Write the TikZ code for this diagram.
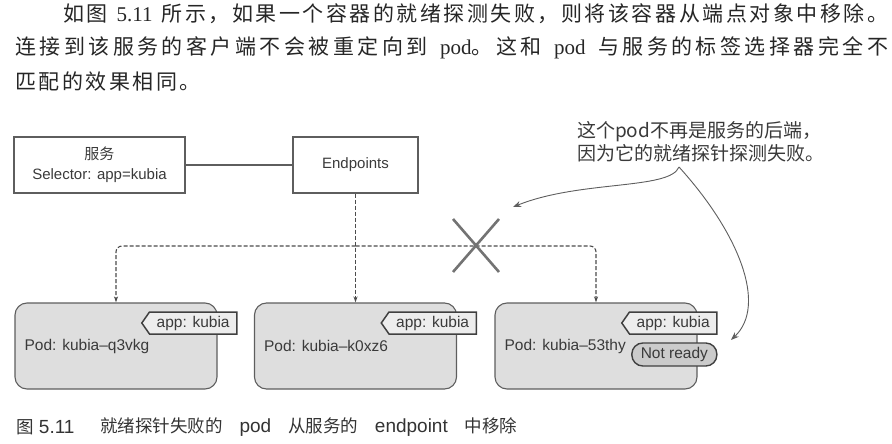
\documentclass[tikz,border=0pt]{standalone}
\usepackage{fontspec}
\setmainfont{Liberation Sans}
\newfontfamily\cjk{Noto Sans CJK SC}
\newfontfamily\cjkbody[LetterSpace=12]{Noto Sans CJK SC}
\newfontfamily\cjkwide[LetterSpace=16.5]{Noto Sans CJK SC}
\newfontfamily\romtext{Liberation Serif}
\usepackage{tikz}
\usetikzlibrary{arrows.meta,shapes.symbols}
\definecolor{linie}{HTML}{5E5E5E}
\definecolor{schrift}{HTML}{3A3A3A}
\definecolor{podgrau}{HTML}{DEDEDE}
\definecolor{etikett}{HTML}{EDEDED}
\definecolor{warngrau}{HTML}{CBCBCB}
\newcommand{\zh}[1]{{\cjkbody #1}}
\newcommand{\zhw}[1]{{\cjkwide #1}}
\newcommand{\lat}[1]{{\romtext #1}}
\newcommand{\capzh}[1]{{\cjk\fontsize{17.5}{22}\selectfont #1}}

\begin{document}
\begin{tikzpicture}[x=1pt,y=-1pt,
    box/.style={draw=linie, line width=1.1pt, inner sep=0pt, minimum height=56pt, align=center, text=schrift, font=\fontsize{15}{20}\selectfont},
    pod/.style={draw=linie, line width=1.1pt, fill=podgrau, rounded corners=12pt, minimum width=202pt, minimum height=86pt, inner sep=0pt},
    podname/.style={anchor=west, inner sep=0pt, text=schrift, font=\fontsize{15.5}{18}\selectfont},
    tag/.style={signal, signal to=west, signal pointer angle=110, draw=black!75, line width=1.5pt, fill=etikett, minimum width=95pt, minimum height=22pt, inner xsep=3pt, inner ysep=0pt, anchor=east, text=schrift, font=\fontsize{15.5}{18}\selectfont},
    notready/.style={draw=black!75, line width=1.4pt, fill=warngrau, rounded corners=11pt, minimum width=85pt, minimum height=23pt, inner sep=0pt, anchor=east, text=schrift, font=\fontsize{15.5}{18}\selectfont},
    conn/.style={draw=black!70, line width=1.1pt, dash pattern=on 4pt off 2pt, -{Stealth[length=6pt,width=4pt]}},
    pfeil/.style={draw=linie, line width=0.9pt, -{Stealth[length=8pt,width=6pt]}},
    para/.style={anchor=west, inner sep=0pt, text=black!85, font=\fontsize{21}{24}\selectfont},
    caption/.style={anchor=west, inner sep=0pt, text=black!80, font=\fontsize{19}{22}\selectfont}]
    \useasboundingbox (0,0) rectangle (892,444);
    % Absatz
    \node[para] (zeile1) at (63,14) {\makebox[825pt][s]{\zh{如图}\ \lat{5.11}\ \zh{所示，如果一个容器的就绪探测失败，则将该容器从端点对象中移除。}}};
    \node[para] (zeile2) at (15,48) {\makebox[873pt][s]{\zhw{连接到该服务的客户端不会被重定向到}\ \lat{pod}\zhw{。这和}\ \lat{pod}\ \zhw{与服务的标签选择器完全不}}};
    \node[para] (zeile3) at (15,82) {\zh{匹配的效果相同。}};
    % Service und Endpoints
    \node[box, minimum width=171pt] (svc) at (99.5,165) {{\cjk 服务}\\Selector: app=kubia};
    \node[box, minimum width=125pt] (ep) at (355.5,165) {Endpoints};
    \draw[linie, line width=1.1pt] (svc) -- (ep);
    % Pods
    \node[pod] (pod1) at (116,346) {};
    \node[pod] (pod2) at (355.5,346) {};
    \node[pod] (pod3) at (596,346) {};
    \node[podname] (name1) at ([xshift=10pt]pod1.west) {Pod: kubia–q3vkg};
    \node[podname] (name2) at ([xshift=10pt]pod2.west) {Pod: kubia–k0xz6};
    \node[podname] (name3) at ([xshift=10pt]pod3.west) {Pod: kubia–53thy};
    \node[tag] (tag1) at ([xshift=20pt,yshift=23pt]pod1.east) {app: kubia};
    \node[tag] (tag2) at ([xshift=20pt,yshift=23pt]pod2.east) {app: kubia};
    \node[tag] (tag3) at ([xshift=20pt,yshift=23pt]pod3.east) {app: kubia};
    \node[notready] (nr) at ([xshift=20pt,yshift=-8.5pt]pod3.east) {Not ready};
    % Verbindungen
    \coordinate (bus) at (355.5,246);
    \draw[conn] (ep.south) -- (pod2.north);
    \draw[conn, rounded corners=6pt] (bus) -| (pod1.north);
    \draw[conn, rounded corners=6pt] (bus) -| (pod3.north);
    \draw[black!55, line width=2.6pt] (453,219) -- (499,272) (453,272) -- (499,219); %Kreuz
    % Hinweis
    \node[anchor=west, align=left, inner sep=0pt, text=schrift, font=\cjk\fontsize{19}{23}\selectfont] (note) at (577,141.5) {这个pod不再是服务的后端，\\因为它的就绪探针探测失败。};
    \coordinate (fork) at (679,167);
    \coordinate (xtip) at (513,207);
    \coordinate (nrtip) at (731,340);
    \draw[pfeil] (fork) .. controls (670,190) and (580,180) .. (xtip);
    \draw[pfeil] (fork) .. controls (738,232) and (768,305) .. (nrtip);
    % Bildunterschrift
    \node[caption] (capnr) at (16,427) {\capzh{图}\ 5.11};
    \node[caption] (captext) at (100,427) {\makebox[417pt][s]{\capzh{就绪探针失败的}\ pod\ \capzh{从服务的}\ endpoint\ \capzh{中移除}}};
\end{tikzpicture}
\end{document}
